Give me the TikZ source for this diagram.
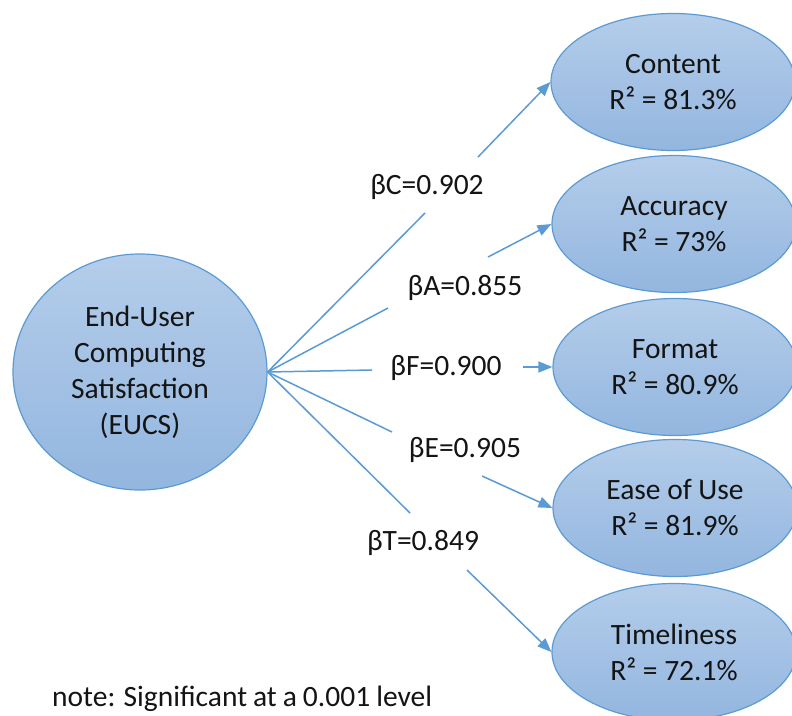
\documentclass[tikz,border=0pt]{standalone}
\usepackage{fontspec}
\setmainfont{Carlito}
\newfontfamily\notefont{Carlito}[WordSpace=0.9]
\usetikzlibrary{shapes.geometric,arrows.meta}
\definecolor{edgeblue}{HTML}{5B9BD5}
\definecolor{fillTop}{HTML}{B4CDEA}
\definecolor{fillBot}{HTML}{93B6DF}
\definecolor{txt}{HTML}{141414}
\begin{document}
\begin{tikzpicture}[x=1pt,y=-1pt,
  lat/.style={ellipse, draw=edgeblue, line width=1.2pt, top color=fillTop, bottom color=fillBot,
    inner sep=0pt, align=center, font=\fontsize{29.5}{36}\selectfont, text=txt},
  small/.style={lat, minimum width=244pt, minimum height=137pt},
  conn/.style={draw=edgeblue, line width=1.5pt},
  arr/.style={conn, -{Triangle[length=14pt,width=11pt]}},
  lbl/.style={font=\fontsize{29.5}{32}\selectfont, text=txt, inner sep=0pt}]
\useasboundingbox (0,0) rectangle (792,715);
\fill[white] (0,0) rectangle (792,715);

\node[lat, minimum width=254pt, minimum height=236pt] (eucs) at (140,372)
  {End-User\\Computing\\Satisfaction\\(EUCS)};
\node[small] (content) at (673,82)  {Content\\R² = 81.3\%};
\node[small] (accuracy) at (674,224) {Accuracy\\R² = 73\%};
\node[small] (format) at (675,367)  {Format\\R² = 80.9\%};
\node[small] (ease) at (675,508)    {Ease of Use\\R² = 81.9\%};
\node[small] (time) at (674,652)    {Timeliness\\R² = 72.1\%};

\coordinate (c1) at (425,213); \coordinate (c2) at (478,157);
\coordinate (a1) at (388,308); \coordinate (a2) at (488,257);
\coordinate (f1) at (372,370); \coordinate (f2) at (523,367);
\coordinate (e1) at (392,432); \coordinate (e2) at (482,476);
\coordinate (t1) at (410,513); \coordinate (t2) at (467,570);

\draw[conn] (eucs.east) -- (c1);
\draw[arr] (c2) -- (content.west);
\draw[conn] (eucs.east) -- (a1);
\draw[arr] (a2) -- (accuracy.west);
\draw[conn] (eucs.east) -- (f1);
\draw[arr] (f2) -- (format.west);
\draw[conn] (eucs.east) -- (e1);
\draw[arr] (e2) -- (ease.west);
\draw[conn] (eucs.east) -- (t1);
\draw[arr] (t2) -- (time.west);

\node[lbl] (lc) at (427,187) {βC=0.902};
\node[lbl] (la) at (465,288) {βA=0.855};
\node[lbl] (lf) at (446,368) {βF=0.900};
\node[lbl] (le) at (465,450) {βE=0.905};
\node[lbl] (lt) at (423,543) {βT=0.849};

\node[font=\notefont\fontsize{29.5}{32}\selectfont, text=txt, anchor=west, inner sep=0pt] (note) at (52,699)
  {note: Significant at a 0.001 level};
\end{tikzpicture}
\end{document}
